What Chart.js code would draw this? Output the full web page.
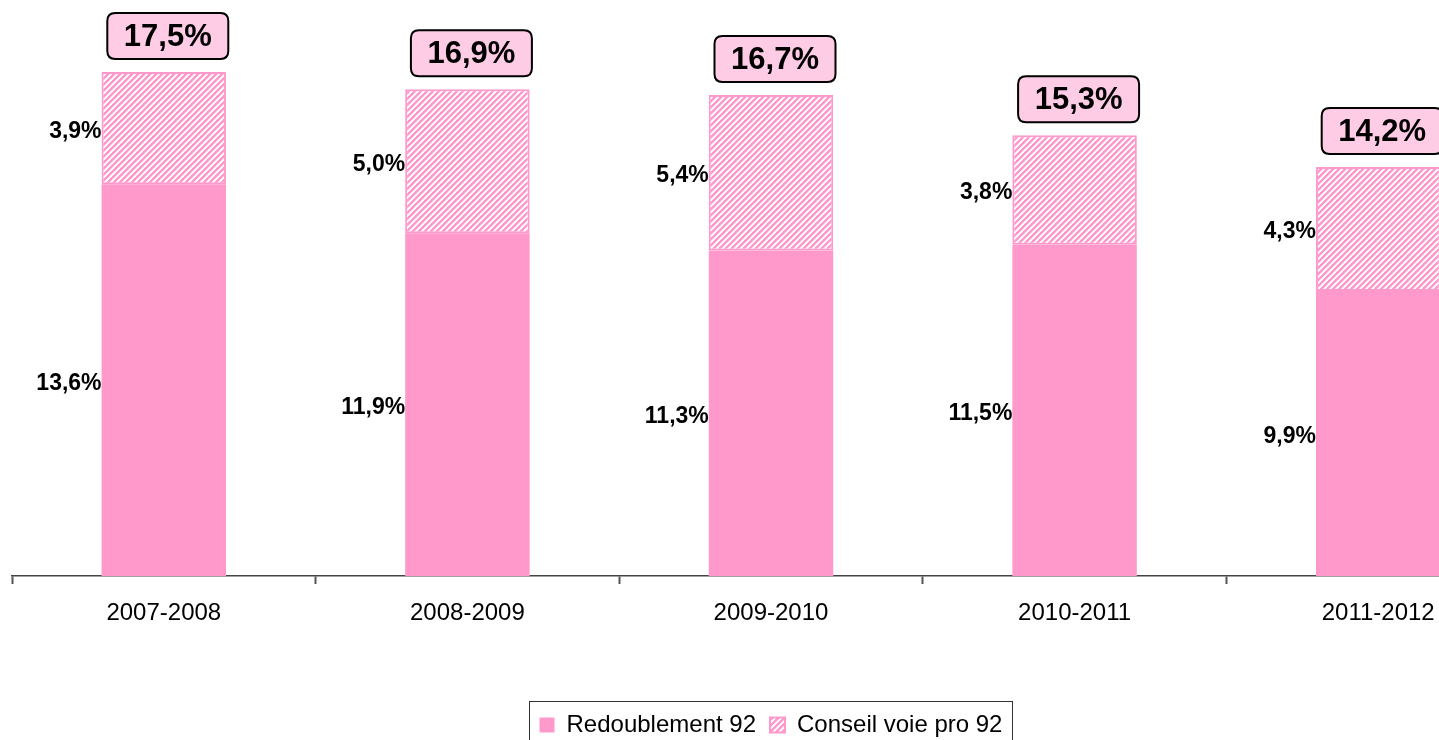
<!DOCTYPE html>
<html>
<head>
<meta charset="utf-8">
<script src="https://cdn.jsdelivr.net/npm/chart.js@4.4.1/dist/chart.umd.min.js"></script>
<style>
  html, body { margin: 0; padding: 0; background: #fff; overflow: hidden; }
  #wrap { position: absolute; left: 0; top: 0; width: 1540px; height: 752px; }
</style>
</head>
<body>
<div id="wrap"><canvas id="c" width="1540" height="752"></canvas></div>
<script>
const categories = ['2007-2008', '2008-2009', '2009-2010', '2010-2011', '2011-2012'];
const redoublement = [13.6, 11.9, 11.3, 11.5, 9.9];
const conseilVoiePro = [3.9, 5.0, 5.4, 3.8, 4.3];
const seriesNames = ['Redoublement 92', 'Conseil voie pro 92'];

const FONT = "'Liberation Sans', Arial, sans-serif";
const PINK = '#FF99CC';

function makeHatch() {
  const n = 6;
  const c = document.createElement('canvas');
  c.width = n; c.height = n;
  const x = c.getContext('2d');
  x.fillStyle = '#ffffff';
  x.fillRect(0, 0, n, n);
  for (let i = 0; i < n; i++) for (let j = 0; j < n; j++) {
    const k = (i + j) % n;
    if (k < 3) { x.fillStyle = PINK; x.fillRect(i, j, 1, 1); }
    else if (k === 3) { x.fillStyle = '#FFD6EA'; x.fillRect(i, j, 1, 1); }
  }
  return x.createPattern(c, 'repeat');
}
const hatch = makeHatch();

function fmt(v) { return v.toFixed(1).replace('.', ',') + '%'; }

function roundRect(ctx, x, y, w, h, r) {
  ctx.beginPath();
  ctx.moveTo(x + r, y);
  ctx.lineTo(x + w - r, y);
  ctx.quadraticCurveTo(x + w, y, x + w, y + r);
  ctx.lineTo(x + w, y + h - r);
  ctx.quadraticCurveTo(x + w, y + h, x + w - r, y + h);
  ctx.lineTo(x + r, y + h);
  ctx.quadraticCurveTo(x, y + h, x, y + h - r);
  ctx.lineTo(x, y + r);
  ctx.quadraticCurveTo(x, y, x + r, y);
  ctx.closePath();
}

const labelPlugin = {
  id: 'labels',
  afterDatasetsDraw(chart) {
    const ctx = chart.ctx;
    ctx.save();
    ctx.fillStyle = '#000';
    ctx.font = 'bold 23px ' + FONT;
    ctx.textAlign = 'right';
    ctx.textBaseline = 'middle';
    chart.data.datasets.forEach((ds, di) => {
      const meta = chart.getDatasetMeta(di);
      meta.data.forEach((el, i) => {
        const left = el.x - el.width / 2;
        const mid = (el.y + el.base) / 2;
        ctx.fillText(fmt(ds.data[i]), left, mid + 3);
      });
    });
    // totals
    const topMeta = chart.getDatasetMeta(chart.data.datasets.length - 1);
    topMeta.data.forEach((el, i) => {
      const total = chart.data.datasets.reduce((s, d) => s + d.data[i], 0);
      const w = 121, h = 46;
      const cx = el.x + 4;
      const bottom = el.y - 13;
      roundRect(ctx, cx - w / 2, bottom - h, w, h, 8);
      ctx.fillStyle = '#FFCCE5';
      ctx.fill();
      ctx.lineWidth = 2;
      ctx.strokeStyle = '#000';
      ctx.stroke();
      ctx.fillStyle = '#000';
      ctx.font = 'bold 31px ' + FONT;
      ctx.textAlign = 'center';
      ctx.textBaseline = 'middle';
      ctx.fillText(fmt(Math.round(total * 10) / 10), cx, bottom - h / 2 + 1);
    });
    ctx.restore();
  },
  afterDraw(chart) {
    const lg = chart.legend;
    if (!lg || !lg.legendHitBoxes || !lg.legendHitBoxes.length) return;
    const hb = lg.legendHitBoxes;
    let minX = Infinity, maxX = -Infinity, minY = Infinity, maxY = -Infinity;
    hb.forEach(b => {
      minX = Math.min(minX, b.left); maxX = Math.max(maxX, b.left + b.width);
      minY = Math.min(minY, b.top); maxY = Math.max(maxY, b.top + b.height);
    });
    const ctx = chart.ctx;
    ctx.save();
    ctx.strokeStyle = '#333';
    ctx.lineWidth = 1;
    ctx.strokeRect(Math.round(minX - 11) + 0.5, Math.round(minY - 12) + 0.5,
                   Math.round(maxX - minX + 20), Math.round(maxY - minY + 26));
    ctx.restore();
  }
};

new Chart(document.getElementById('c'), {
  type: 'bar',
  data: {
    labels: categories,
    datasets: [
      {
        label: seriesNames[0],
        data: redoublement,
        backgroundColor: PINK,
        borderWidth: 0,
        categoryPercentage: 1,
        barPercentage: 0.41
      },
      {
        label: seriesNames[1],
        data: conseilVoiePro,
        backgroundColor: hatch,
        borderColor: PINK,
        borderWidth: 2,
        borderSkipped: false,
        categoryPercentage: 1,
        barPercentage: 0.41
      }
    ]
  },
  options: {
    responsive: false,
    devicePixelRatio: 1,
    animation: false,
    layout: { padding: { left: 12, right: 10, top: 0, bottom: 5 } },
    scales: {
      x: {
        stacked: true,
        grid: {
          display: true,
          drawOnChartArea: false,
          drawTicks: true,
          tickLength: 8,
          tickWidth: 2,
          tickColor: '#555',
          offset: true
        },
        border: { display: true, color: '#444', width: 1.5 },
        ticks: { color: '#000', font: { family: FONT, size: 24 }, padding: 15, maxRotation: 0 },
        afterFit(s) { s.height = 123; }
      },
      y: {
        stacked: true,
        display: false,
        min: 0,
        max: 20
      }
    },
    plugins: {
      legend: {
        position: 'bottom',
        labels: {
          color: '#000',
          font: { family: FONT, size: 24 },
          boxWidth: 15,
          boxHeight: 15,
          padding: 14
        }
      },
      tooltip: { enabled: false }
    }
  },
  plugins: [labelPlugin]
});
</script>
</body>
</html>
